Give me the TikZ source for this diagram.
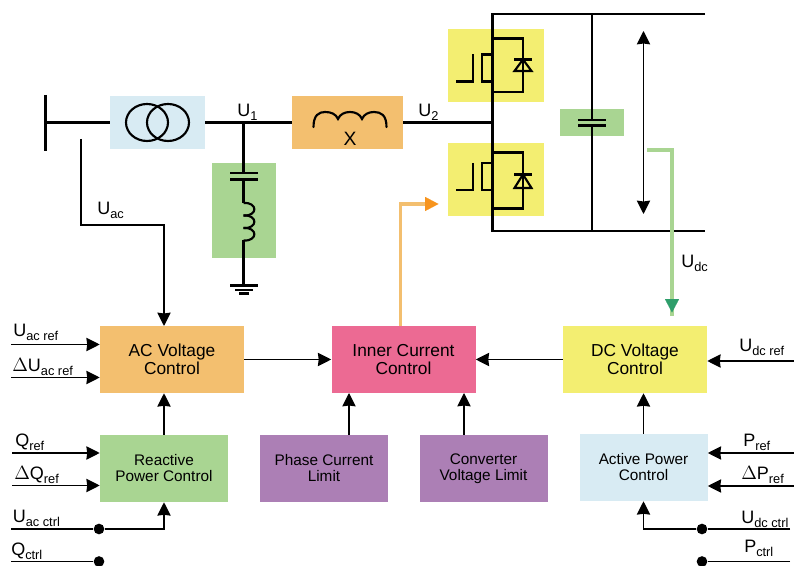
\documentclass[tikz,border=0pt]{standalone}
\usepackage{fontspec}
\setmainfont{Liberation Sans}
\usetikzlibrary{arrows.meta}

\definecolor{boxblue}{HTML}{D8EBF3}
\definecolor{boxorange}{HTML}{F3BF6F}
\definecolor{boxgreen}{HTML}{A9D592}
\definecolor{boxyellow}{HTML}{F3EE71}
\definecolor{boxpink}{HTML}{EC6A93}
\definecolor{boxpurple}{HTML}{AC7FB5}
\definecolor{tipteal}{HTML}{2E9E6B}
\definecolor{tiporange}{HTML}{F7941D}

\newcommand{\sig}[2]{\fontsize{13.5}{14}\selectfont #1\raisebox{-0.35ex}{\fontsize{9.6}{10}\selectfont #2}}

\tikzset{
    bigbox/.style={inner sep=0pt, align=center, minimum width=144*0.75pt, minimum height=67*0.75pt, font=\fontsize{13}{13.5}\selectfont},
    smallbox/.style={inner sep=0pt, align=center, minimum width=128*0.75pt, minimum height=67*0.75pt, font=\fontsize{11.5}{12}\selectfont},
    patch/.style={inner sep=0pt},
    power/.style={line width=1.6pt},
    signal/.style={line width=1.1pt, ->},
    wide/.style={line width=2.6pt},
    siglabel/.style={anchor=base west, inner sep=0pt},
    dot/.style={circle, fill=black, inner sep=0pt, minimum size=8pt},
}

\begin{document}
\begin{tikzpicture}[x=0.75pt, y=-0.75pt, >={Stealth[length=10pt,width=10pt,inset=0.6pt]}]
    \useasboundingbox (0,0) rectangle (794,566);

    % Coloured patches behind the circuit
    \node[patch, fill=boxblue, minimum width=71.25pt, minimum height=39.75pt] (trafo) at (157.5,122.5) {};
    \node[patch, fill=boxorange, minimum width=83.25pt, minimum height=39.75pt] (reactor) at (347.5,122.5) {};
    \node[patch, fill=boxgreen, minimum width=48pt, minimum height=71.25pt] (filter) at (244,210.5) {};
    \node[patch, fill=boxyellow, minimum width=72pt, minimum height=54.75pt] (upper) at (496,65.5) {};
    \node[patch, fill=boxyellow, minimum width=72pt, minimum height=54.75pt] (lower) at (496,179.5) {};
    \node[patch, fill=boxgreen, minimum width=48pt, minimum height=20.25pt] (dccap) at (592,122.5) {};

    % Control blocks
    \node[bigbox, fill=boxorange] (acv) at (172,359.5) {AC Voltage\\Control};
    \node[bigbox, fill=boxpink] (icc) at (403.5,359.5) {Inner Current\\Control};
    \node[bigbox, fill=boxyellow] (dcv) at (635,359.5) {DC Voltage\\Control};
    \node[smallbox, fill=boxgreen] (rpc) at (164,468.5) {Reactive\\Power Control};
    \node[smallbox, fill=boxpurple] (pcl) at (324,468.5) {Phase Current\\Limit};
    \node[smallbox, fill=boxpurple] (cvl) at (483.5,468.5) {Converter\\Voltage Limit};
    \node[smallbox, fill=boxblue] (apc) at (643.5,467.5) {Active Power\\Control};

    % AC bus and transformer
    \draw[power] (45.5,95) -- (45.5,151);
    \coordinate (bus) at (45.5,122.5);
    \draw[power] (bus) -- (trafo.west);
    \draw[power] (147,122.5) ellipse (21 and 18.5);
    \draw[power] (168,122.5) ellipse (21 and 18.5);
    \coordinate (u1) at (243.5,122.5);
    \draw[power] (trafo.east) -- (reactor.west);

    % Filter branch
    \draw[power] (u1) -- (243.5,173);
    \draw[power] (230,173) -- (258,173);
    \draw[power] (230,179.5) -- (258,179.5);
    \draw[power] (243.5,179.5) -- (243.5,203);
    \foreach \y in {203,215.5,228}
        \draw[power] (243.5,\y) .. controls (258,\y-1) and (258,\y+13.5) .. (243.5,\y+12.5);
    \draw[power] (243.5,240.5) -- (243.5,285.5);
    \draw[power] (230,285.5) -- (258,285.5);
    \draw[power] (235,290) -- (253,290);
    \draw[power] (239,293.5) -- (249,293.5);

    % Series reactor
    \draw[power, line cap=round] (313.5,127) .. controls (313.5,115) and (319,112) .. (325,112)
        .. controls (331,112) and (336,114) .. (338,119)
        .. controls (340,114) and (345,112) .. (350,112)
        .. controls (355,112) and (360,114) .. (362,119)
        .. controls (364,114) and (369,112) .. (374,112)
        .. controls (381,112) and (386.5,115) .. (386.5,127);
    \draw[power] (reactor.east) -- (492.5,122.5);
    \node[inner sep=0pt, font=\fontsize{14.5}{15}\selectfont] (xlabel) at (350,139) {X};

    % DC side rails
    \coordinate (railtl) at (492.5,14);
    \coordinate (railbl) at (492.5,231);
    \draw[power] (705,14) -- (railtl) -- (railbl) -- (705,231);
    \draw[power] (592,14) -- (592,120);
    \draw[power] (578,120) -- (606,120);
    \draw[power] (578,125.5) -- (606,125.5);
    \draw[power] (592,125.5) -- (592,231);
    \draw[line width=1.1pt, <->] (643.5,31) -- (643.5,214);

    % Upper switch
    \draw[power] (492.5,38.5) -- (523,38.5) -- (523,92) -- (492.5,92);
    \draw[power] (492.5,54.5) -- (482,54.5) -- (482,81.5) -- (492.5,81.5);
    \draw[power] (472.7,54.5) -- (472.7,81.5) -- (456,81.5);
    \draw[power] (514,59.5) -- (532,59.5);
    \draw[power] (523,59.5) -- (514.5,71) -- (531.5,71) -- cycle;

    % Lower switch
    \draw[power] (492.5,152.5) -- (523,152.5) -- (523,208.5) -- (492.5,208.5);
    \draw[power] (492.5,163) -- (482,163) -- (482,190) -- (492.5,190);
    \draw[power] (472.7,163) -- (472.7,190) -- (456,190);
    \draw[power] (514,174.5) -- (532,174.5);
    \draw[power] (523,174.5) -- (514.5,188) -- (531.5,188) -- cycle;

    % Measurements back to the control
    \coordinate (uacpick) at (81,139);
    \draw[signal] (uacpick) -- (81,225) -- (164,225) -- (164,326);
    \coordinate (udcpick) at (647,150);
    \draw[wide, color=boxgreen] (udcpick) -- (672,150) -- (672,316);
    \draw[-{Stealth[length=10pt,width=10.5pt,inset=0pt]}, color=tipteal, line width=0.1pt] (672,299.5) -- (672,312.5);
    \draw[wide, color=boxorange] (icc.north -| 400.5,0) -- (400.5,204) -- (426,204);
    \draw[-{Stealth[length=10pt,width=10.5pt,inset=0pt]}, color=tiporange, line width=0.1pt] (425,204) -- (438.5,204);

    % Links between control blocks
    \draw[signal] (acv.east) -- (icc.west);
    \draw[signal] (dcv.west) -- (icc.east);
    \draw[signal] (rpc.north) -- (rpc.north |- acv.south);
    \draw[signal] (apc.north) -- (apc.north |- dcv.south);
    \draw[signal] (pcl.north -| 349,0) -- (349,393);
    \draw[signal] (cvl.north -| 464,0) -- (464,393);

    % Left inputs
    \draw[signal] (11,344.5) -- (acv.west |- 0,344.5);
    \draw[signal] (11,377.5) -- (acv.west |- 0,377.5);
    \draw[signal] (12,453) -- (rpc.west |- 0,453);
    \draw[signal] (12,485.5) -- (rpc.west |- 0,485.5);
    \node[dot] (uacdot) at (99,529) {};
    \node[dot] (qdot) at (99,561.5) {};
    \draw[line width=1.1pt] (11,529) -- (uacdot);
    \draw[signal] (uacdot) -- (rpc.south |- uacdot) -- (rpc.south);
    \draw[line width=1.1pt] (11,561.5) -- (qdot);

    % Right inputs
    \draw[signal] (794,361) -- (dcv.east |- 0,361);
    \draw[signal] (794,453) -- (apc.east |- 0,453);
    \draw[signal] (794,486) -- (apc.east |- 0,486);
    \node[dot] (udot) at (702,529) {};
    \node[dot] (pdot) at (702,561.5) {};
    \draw[line width=1.1pt] (790,529) -- (udot);
    \draw[signal] (udot) -- (apc.south |- udot) -- (apc.south);
    \draw[line width=1.1pt] (790,561.5) -- (pdot);

    % Signal names
    \node[siglabel] (lu1) at (237,117) {\sig{U}{1}};
    \node[siglabel] (lu2) at (418,117) {\sig{U}{2}};
    \node[siglabel] (luac) at (97,215) {\sig{U}{ac}};
    \node[siglabel] (ludc) at (681,268) {\sig{U}{dc}};
    \node[siglabel] (luacref) at (13,337) {\sig{U}{ac ref}};
    \node[siglabel] (lduacref) at (12,372) {\sig{$\Delta$U}{ac ref}};
    \node[siglabel] (lqref) at (15,447) {\sig{Q}{ref}};
    \node[siglabel] (ldqref) at (14,480) {\sig{$\Delta$Q}{ref}};
    \node[siglabel] (luacctrl) at (12.5,523) {\sig{U}{ac ctrl}};
    \node[siglabel] (lqctrl) at (11,556) {\sig{Q}{ctrl}};
    \node[siglabel] (ludcref) at (739,352) {\sig{U}{dc ref}};
    \node[siglabel] (lpref) at (743,447) {\sig{P}{ref}};
    \node[siglabel] (ldpref) at (741,480) {\sig{$\Delta$P}{ref}};
    \node[siglabel] (ludcctrl) at (741,524) {\sig{U}{dc ctrl}};
    \node[siglabel] (lpctrl) at (744,553) {\sig{P}{ctrl}};
\end{tikzpicture}
\end{document}
